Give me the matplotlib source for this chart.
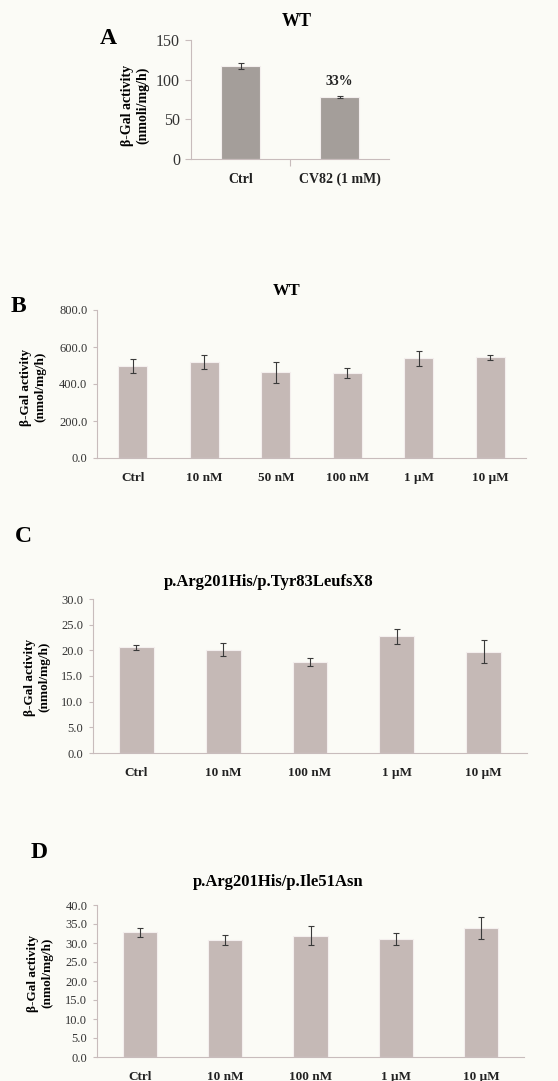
import matplotlib.pyplot as plt
import numpy as np

plt.rcParams['font.family'] = ['Liberation Serif', 'DejaVu Serif']

# panel A
a_labels = ['Ctrl', 'CV82 (1 mM)']
a_vals = [117, 78]
a_err = [4, 1.5]

# panel B
b_labels = ['Ctrl', '10 nM', '50 nM', '100 nM', '1 μM', '10 μM']
b_vals = [497, 519, 463, 459, 539, 544]
b_err = [40, 40, 57, 25, 40, 13]

# panel C
c_labels = ['Ctrl', '10 nM', '100 nM', '1 μM', '10 μM']
c_vals = [20.6, 20.1, 17.7, 22.7, 19.75]
c_err = [0.5, 1.3, 0.8, 1.5, 2.2]

# panel D
d_labels = ['Ctrl', '10 nM', '100 nM', '1 μM', '10 μM']
d_vals = [32.8, 30.9, 31.9, 31.1, 33.9]
d_err = [1.2, 1.3, 2.5, 1.5, 2.9]

bg = '#fbfbf6'
W, H = 558, 1081
fig = plt.figure(figsize=(W / 100, H / 100), dpi=100, facecolor=bg)


def px(x, y):
    return x / W, 1 - y / H


def panel(rect, labels, vals, err, color, ymax, ystep, fmt, tsize, lsize, tlen=3):
    l, t, r, b = rect
    ax = fig.add_axes([l / W, 1 - b / H, (r - l) / W, (b - t) / H])
    ax.set_facecolor(bg)
    x = np.arange(len(labels))
    ax.bar(x, vals, width=0.4, color=color, edgecolor='#f4efee', linewidth=0.8)
    ax.errorbar(x, vals, yerr=err, fmt='none', ecolor='#3a3a3a',
                elinewidth=0.8, capsize=2.5, capthick=0.8)
    ax.set_xlim(-0.5, len(labels) - 0.5)
    ax.set_ylim(0, ymax)
    ticks = np.arange(0, ymax + ystep / 2, ystep)
    ax.set_yticks(ticks)
    ax.set_yticklabels([fmt.format(v) for v in ticks], fontsize=tsize, color='#333333')
    ax.set_xticks(x)
    ax.set_xticklabels(labels, fontsize=lsize, fontweight='bold', color='#222222')
    for s in ['top', 'right']:
        ax.spines[s].set_visible(False)
    for s in ['left', 'bottom']:
        ax.spines[s].set_color('#c8bcbc')
        ax.spines[s].set_linewidth(0.8)
    ax.tick_params(axis='y', length=tlen, width=0.8, color='#c8bcbc', pad=4)
    ax.tick_params(axis='x', length=0, pad=10)
    return ax


# A
axA = panel((191, 40, 389, 159), a_labels, a_vals, a_err, '#a49e9a', 150, 50,
            '{:.0f}', 11.5, 10, tlen=4)
axA.set_xticks([0.5], minor=True)
axA.tick_params(axis='x', which='minor', length=5, width=0.8, color='#c8bcbc')
axA.text(1, a_vals[1] + 12, '33%', ha='center', va='bottom', fontsize=10,
         fontweight='bold', color='#222222')
fig.text(*px(297, 22), 'WT', ha='center', va='center', fontsize=13, fontweight='bold')
fig.text(*px(108, 38), 'A', ha='center', va='center', fontsize=17, fontweight='bold')
fig.text(*px(135, 105), 'β-Gal activity\n(nmoli/mg/h)', ha='center', va='center',
         rotation=90, fontsize=10, fontweight='bold', multialignment='center')

# B
panel((97, 310, 526, 458), b_labels, b_vals, b_err, '#c5b9b6', 800, 200,
      '{:.1f}', 9, 9.5)
fig.text(*px(287, 291), 'WT', ha='center', va='center', fontsize=12, fontweight='bold')
fig.text(*px(18, 307), 'B', ha='center', va='center', fontsize=17, fontweight='bold')
fig.text(*px(33, 387), 'β-Gal activity\n(nmol/mg/h)', ha='center', va='center',
         rotation=90, fontsize=9.5, fontweight='bold', multialignment='center')

# C
panel((93, 599, 527, 753), c_labels, c_vals, c_err, '#c5b9b6', 30, 5,
      '{:.1f}', 9, 9.5)
fig.text(*px(269, 582), 'p.Arg201His/p.Tyr83LeufsX8', ha='center', va='center',
         fontsize=12, fontweight='bold')
fig.text(*px(23, 536), 'C', ha='center', va='center', fontsize=17, fontweight='bold')
fig.text(*px(37, 677), 'β-Gal activity\n(nmol/mg/h)', ha='center', va='center',
         rotation=90, fontsize=9.5, fontweight='bold', multialignment='center')

# D
panel((97, 905, 524, 1057), d_labels, d_vals, d_err, '#c5b9b6', 40, 5,
      '{:.1f}', 9, 9.5)
fig.text(*px(278, 882), 'p.Arg201His/p.Ile51Asn', ha='center', va='center',
         fontsize=12, fontweight='bold')
fig.text(*px(39, 852), 'D', ha='center', va='center', fontsize=17, fontweight='bold')
fig.text(*px(40, 973), 'β-Gal activity\n(nmol/mg/h)', ha='center', va='center',
         rotation=90, fontsize=9.5, fontweight='bold', multialignment='center')

fig.savefig('out.png', dpi=100, facecolor=bg)
